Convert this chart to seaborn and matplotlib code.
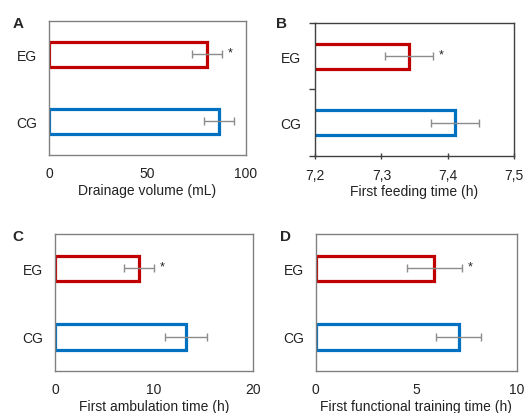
import matplotlib
matplotlib.use("Agg")
import matplotlib.pyplot as plt
import seaborn as sns
import pandas as pd
import numpy as np

sns.set_style("white")
plt.rcParams['font.family'] = ['Liberation Sans', 'DejaVu Sans']

groups = ["EG", "CG"]
colors = ["#C00000", "#0070C0"]

drainage_mean = [80.0, 86.3]
drainage_err = [7.6, 7.5]
feeding_mean = [7.342, 7.411]
feeding_err = [0.036, 0.036]
ambulation_mean = [8.5, 13.2]
ambulation_err = [1.5, 2.1]
training_mean = [5.9, 7.1]
training_err = [1.35, 1.1]

panel_letters = ["A", "B", "C", "D"]
xlabels = ["Drainage volume (mL)", "First feeding time (h)",
           "First ambulation time (h)", "First functional training time (h)"]
xlims = [(0, 100), (7.2, 7.5), (0, 20), (0, 10)]
xticks = [[0, 50, 100], [7.2, 7.3, 7.4, 7.5], [0, 10, 20], [0, 5, 10]]
xticklabels = [["0", "50", "100"], ["7,2", "7,3", "7,4", "7,5"],
               ["0", "10", "20"], ["0", "5", "10"]]
means = [drainage_mean, feeding_mean, ambulation_mean, training_mean]
errs = [drainage_err, feeding_err, ambulation_err, training_err]

fig = plt.figure(figsize=(5.26, 4.14), dpi=100)
positions = [
    [0.0932, 0.6232, 0.3745, 0.3237],
    [0.5994, 0.6215, 0.3772, 0.3205],
    [0.1046, 0.1014, 0.3770, 0.3302],
    [0.6002, 0.1014, 0.3827, 0.3302],
]
letter_pos = [(13, 24), (276, 24), (12, 237), (280, 237)]

for i in range(4):
    ax = fig.add_axes(positions[i])
    df = pd.DataFrame({"group": groups, "value": means[i]})
    sns.barplot(data=df, x="value", y="group", hue="group", palette=colors,
                fill=False, linewidth=2.3, width=0.38, errorbar=None,
                legend=False, ax=ax, orient="h")
    ax.errorbar(means[i], [0, 1], xerr=errs[i], fmt="none", ecolor="#8c8c8c",
                elinewidth=1.0, capsize=3, capthick=1.0, zorder=5)
    # significance star on EG
    ax.annotate("*", xy=(means[i][0] + errs[i][0], 0), xytext=(6, 1.5),
                textcoords="offset points", ha="center", va="center",
                fontsize=9, color="#222222")
    ax.set_xlim(*xlims[i])
    ax.set_ylim(1.5, -0.5)
    ax.set_xticks(xticks[i])
    ax.set_xticklabels(xticklabels[i])
    ax.set_yticks([0, 1])
    ax.set_yticklabels(groups)
    ax.set_xlabel(xlabels[i], fontsize=10, color="#222222", labelpad=2)
    ax.set_ylabel("")
    if i == 1:
        for sp in ax.spines.values():
            sp.set_color("#404040")
            sp.set_linewidth(1.0)
        ax.set_yticks([-0.5, 0.5, 1.5], minor=True)
        ax.tick_params(axis="y", which="major", length=0, pad=10, labelsize=10,
                       colors="#222222")
        ax.tick_params(axis="y", which="minor", length=4, direction="out",
                       color="#404040", width=1, left=True)
        ax.tick_params(axis="x", which="major", length=5, direction="inout",
                       color="#404040", width=1, bottom=True, pad=6,
                       labelsize=10, labelcolor="#222222")
    else:
        for sp in ax.spines.values():
            sp.set_color("#808080")
            sp.set_linewidth(1.0)
        ax.tick_params(axis="y", length=0, pad=8.5, labelsize=10, colors="#222222")
        ax.tick_params(axis="x", length=0, pad=8, labelsize=10, colors="#222222")
    fig.text(letter_pos[i][0] / 526, 1 - letter_pos[i][1] / 414, panel_letters[i],
             fontsize=11, fontweight="bold", ha="left", va="center")

fig.savefig("out.png", dpi=100)
